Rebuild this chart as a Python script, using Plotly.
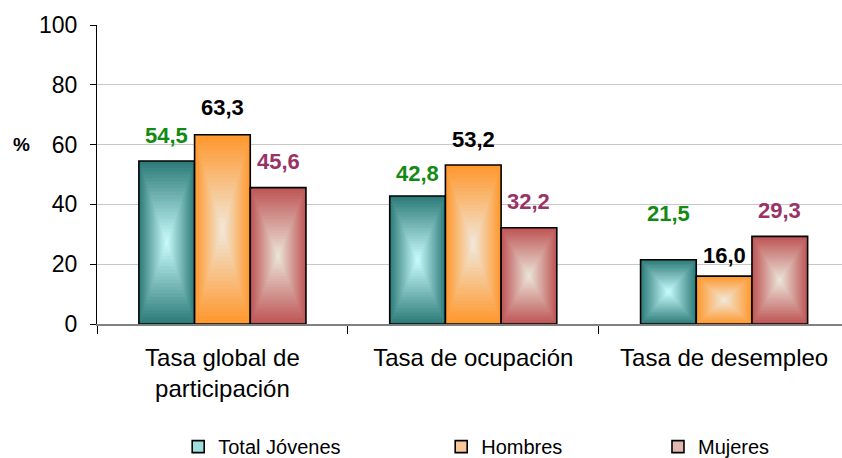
import plotly.graph_objects as go

# ---------------- data ----------------
categories = ["Tasa global de<br>participación", "Tasa de ocupación", "Tasa de desempleo"]
series_names = ["Total Jóvenes", "Hombres", "Mujeres"]
total_jovenes = [54.5, 42.8, 21.5]
hombres = [63.3, 53.2, 16.0]
mujeres = [45.6, 32.2, 29.3]
y_ticks = [0, 20, 40, 60, 80, 100]

series_values = [total_jovenes, hombres, mujeres]

# ---------------- styles ----------------
FONT = "Liberation Sans, Arial, sans-serif"
edge_colors = [(46, 124, 122), (255, 152, 46), (190, 86, 86)]
center_colors = [(205, 255, 255), (240, 234, 222), (236, 232, 220)]
legend_colors = ["#9fdede", "#f8c89a", "#e0b8b0"]
label_colors = ["#138a13", "#000000", "#993366"]
# vertical pixel offset of each value label above its bar top
label_shift = [[26, 23, 46], [27, 25, 21], [26, 26, 26]]
legend_x = [0.109, 0.462, 0.753]
BAR_W = 0.222
N_LEVELS = 24


def lerp(c1, c2, t):
    return "rgb(%d,%d,%d)" % tuple(round(a + (b - a) * t) for a, b in zip(c1, c2))


fig = go.Figure()
legend_names = ["legend", "legend2", "legend3"]

for i, (name, vals) in enumerate(zip(series_names, series_values)):
    center_off = (i - 1) * BAR_W
    # concentric rectangles to imitate the rectangular path gradient
    for k in range(N_LEVELS):
        s = 1 - k / N_LEVELS
        fig.add_trace(go.Bar(
            x=categories,
            y=[v * s for v in vals],
            base=[v * (1 - s) / 2 for v in vals],
            width=BAR_W * s,
            offset=center_off - BAR_W * s / 2,
            marker=dict(color=lerp(center_colors[i], edge_colors[i], s), line=dict(width=0)),
            showlegend=False,
            hoverinfo="skip",
        ))
    # outline
    fig.add_trace(go.Bar(
        x=categories,
        y=vals,
        width=BAR_W,
        offset=center_off - BAR_W / 2,
        marker=dict(color="rgba(0,0,0,0)", line=dict(color="black", width=1.6)),
        showlegend=False,
        name=name,
    ))
    # legend entry
    fig.add_trace(go.Bar(
        x=categories,
        y=[None] * len(categories),
        name=name,
        marker=dict(color=legend_colors[i], line=dict(color="black", width=1.6)),
        legend=legend_names[i],
        showlegend=True,
    ))
    # value labels
    for j, v in enumerate(vals):
        fig.add_annotation(
            x=j + center_off, y=v, xref="x", yref="y",
            text="<b>%s</b>" % f"{v:.1f}".replace(".", ","),
            showarrow=False, yanchor="middle", yshift=label_shift[i][j],
            font=dict(family=FONT, size=22, color=label_colors[i]),
        )

fig.add_annotation(
    x=-0.102, xref="paper", y=60, yref="y", text="<b>%</b>", showarrow=False,
    xanchor="center", yanchor="middle", font=dict(family=FONT, size=19, color="black"),
)

legend_common = dict(orientation="h", y=-0.41, yanchor="middle", xanchor="left",
                     bgcolor="rgba(0,0,0,0)", borderwidth=0,
                     font=dict(family=FONT, size=20, color="black"))

fig.update_layout(
    width=842, height=458,
    margin=dict(l=97, r=0, t=25, b=134, autoexpand=False),
    paper_bgcolor="white", plot_bgcolor="white",
    barmode="overlay",
    font=dict(family=FONT, color="black"),
    legend=dict(x=legend_x[0], **legend_common),
    legend2=dict(x=legend_x[1], **legend_common),
    legend3=dict(x=legend_x[2], **legend_common),
    xaxis=dict(
        type="category", range=[-0.5, 2.47],
        tickson="boundaries", ticks="outside", ticklen=8, tickcolor="black",
        showline=True, linecolor="#808080", linewidth=2,
        showgrid=False, tickfont=dict(family=FONT, size=24, color="black"),
        ticklabelstandoff=11,
    ),
    yaxis=dict(
        range=[0, 100], tickvals=y_ticks, ticks="outside", ticklen=6, tickcolor="black",
        showline=True, linecolor="black", linewidth=1,
        showgrid=True, gridcolor="#c8c8c8", gridwidth=1, zeroline=False,
        tickfont=dict(family=FONT, size=23, color="black"),
        ticklabelstandoff=8,
    ),
)

fig.write_html("out.html", config={"displayModeBar": False},
               post_script="document.body.style.margin='0';")
